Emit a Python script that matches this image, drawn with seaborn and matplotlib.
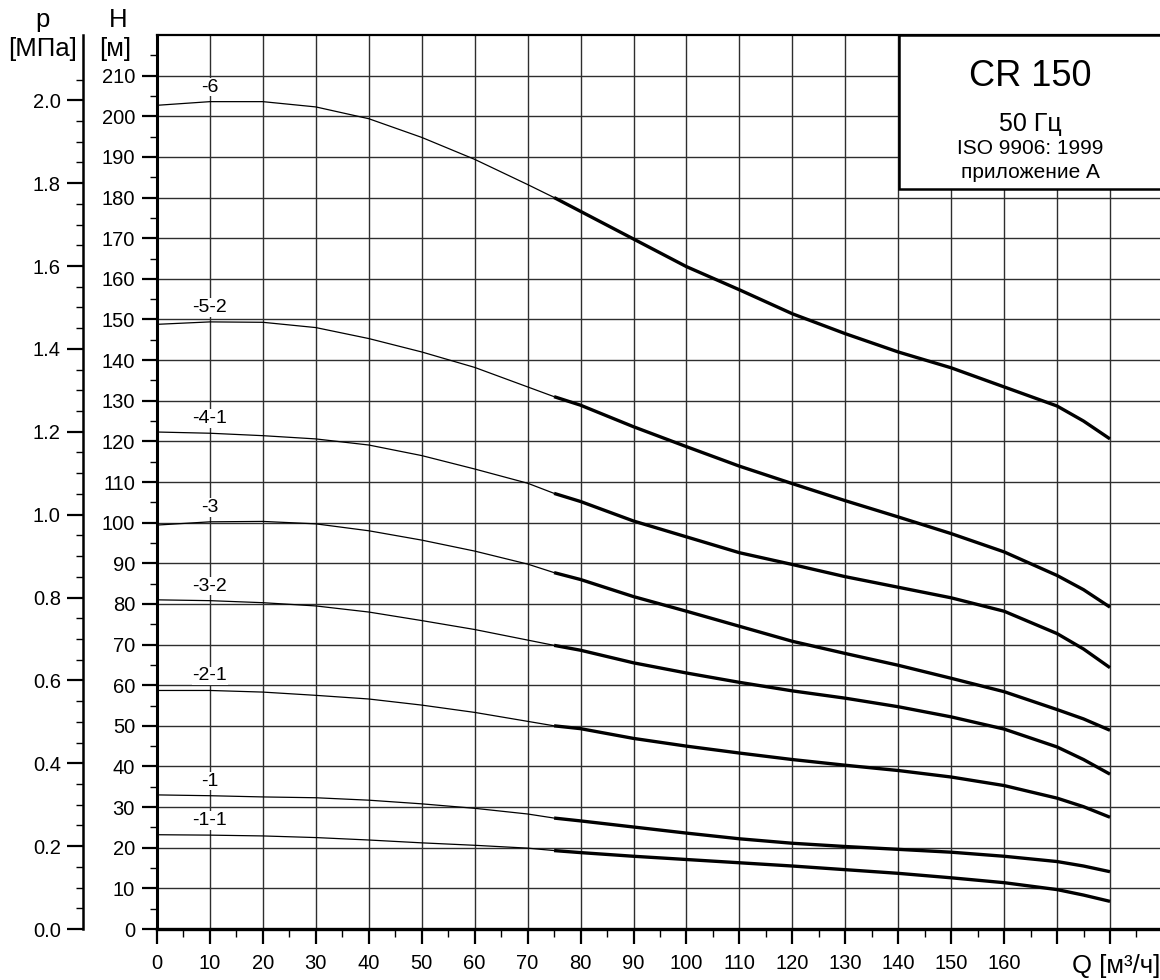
import numpy as np
import pandas as pd
import matplotlib
matplotlib.use("Agg")
import matplotlib.pyplot as plt
import seaborn as sns
from matplotlib.ticker import FixedLocator
from matplotlib.patches import Rectangle

# ---------------- data ----------------
q_values = [0, 10, 20, 30, 40, 50, 60, 70, 75, 80, 90, 100, 110, 120, 130, 140, 150, 160, 170, 175, 180]

h_6   = [202.7, 203.6, 203.6, 202.3, 199.4, 194.8, 189.4, 183.2, 180.0, 176.6, 169.8, 163.0, 157.3, 151.4, 146.5, 142.0, 138.1, 133.4, 128.7, 125.0, 120.6]
h_5_2 = [148.8, 149.4, 149.3, 148.0, 145.3, 142.0, 138.2, 133.4, 131.0, 128.9, 123.6, 118.7, 113.9, 109.6, 105.4, 101.4, 97.3, 92.8, 87.0, 83.5, 79.2]
h_4_1 = [122.3, 122.0, 121.4, 120.6, 119.1, 116.5, 113.2, 109.7, 107.2, 105.2, 100.4, 96.5, 92.6, 89.7, 86.7, 84.1, 81.5, 78.2, 72.7, 68.9, 64.3]
h_3   = [99.4, 100.2, 100.3, 99.7, 98.0, 95.7, 93.0, 89.8, 87.7, 86.0, 81.8, 78.2, 74.5, 70.8, 67.8, 64.9, 61.7, 58.4, 54.0, 51.7, 48.9]
h_3_2 = [81.0, 80.8, 80.3, 79.5, 78.0, 75.9, 73.7, 71.1, 69.8, 68.6, 65.5, 63.0, 60.7, 58.6, 56.8, 54.7, 52.2, 49.2, 44.8, 41.7, 38.1]
h_2_1 = [58.7, 58.7, 58.3, 57.5, 56.6, 55.1, 53.3, 51.1, 50.0, 49.3, 46.9, 45.0, 43.3, 41.7, 40.3, 39.0, 37.4, 35.3, 32.2, 30.1, 27.5]
h_1   = [33.0, 32.8, 32.5, 32.3, 31.7, 30.8, 29.7, 28.3, 27.3, 26.6, 25.1, 23.6, 22.2, 21.1, 20.3, 19.6, 18.9, 17.9, 16.6, 15.5, 14.1]
h_1_1 = [23.2, 23.1, 22.9, 22.5, 21.9, 21.2, 20.6, 19.9, 19.3, 18.8, 17.9, 17.1, 16.3, 15.5, 14.6, 13.7, 12.6, 11.4, 9.7, 8.35, 6.8]

curve_names = ["-6", "-5-2", "-4-1", "-3", "-3-2", "-2-1", "-1", "-1-1"]
curve_values = [h_6, h_5_2, h_4_1, h_3, h_3_2, h_2_1, h_1, h_1_1]

q_split = 75          # thin line below, thick line above
label_q = 10          # where the curve names sit

x_major_ticks = list(range(0, 181, 10))
x_tick_labels = [str(v) for v in range(0, 161, 10)] + ["", ""]
h_major_ticks = list(range(0, 211, 10))
p_major_ticks = [0.0, 0.2, 0.4, 0.6, 0.8, 1.0, 1.2, 1.4, 1.6, 1.8, 2.0]
p_tick_labels = ["0.0", "0.2", "0.4", "0.6", "0.8", "1.0", "1.2", "1.4", "1.6", "1.8", "2.0"]
p_minor_ticks = [0.05 * i for i in range(0, 42)]
m_per_mpa = 101.97

title_main = "CR 150"
title_freq = "50 Гц"
title_std = "ISO 9906: 1999"
title_annex = "приложение А"

# ---------------- style ----------------
sns.set_theme(style="ticks")
plt.rcParams["font.family"] = ["Liberation Sans", "DejaVu Sans"]
plt.rcParams["text.color"] = "black"
plt.rcParams["xtick.color"] = "black"
plt.rcParams["ytick.color"] = "black"

rows = []
for name, vals in zip(curve_names, curve_values):
    for q, h in zip(q_values, vals):
        rows.append({"curve": name, "Q": q, "H": h})
df = pd.DataFrame(rows)

W, H = 1160, 980
fig = plt.figure(figsize=(W / 100, H / 100), dpi=100)
fig.patch.set_facecolor("white")

ax_left, ax_bottom_px, ax_top_px = 157, 929, 35
ax = fig.add_axes([ax_left / W, 1 - ax_bottom_px / H, (W - ax_left) / W, (ax_bottom_px - ax_top_px) / H])
ax.set_facecolor("white")

xmax = (W - ax_left) / ((1110 - ax_left) / 180.0)
ax.set_xlim(0, xmax)
ax.set_ylim(0, 220)

# grid
ax.xaxis.set_major_locator(FixedLocator(x_major_ticks))
ax.xaxis.set_minor_locator(FixedLocator(list(range(5, 190, 10))))
ax.yaxis.set_major_locator(FixedLocator(h_major_ticks))
ax.yaxis.set_minor_locator(FixedLocator(list(range(5, 220, 10))))
ax.grid(True, which="major", color="#2e2e2e", lw=1.0, zorder=0)
ax.set_axisbelow(True)

# curves
thin = df[df["Q"] <= q_split]
thick = df[df["Q"] >= q_split]
sns.lineplot(data=thin, x="Q", y="H", units="curve", estimator=None, color="black",
             lw=0.9, ax=ax, legend=False, zorder=3)
sns.lineplot(data=thick, x="Q", y="H", units="curve", estimator=None, color="black",
             lw=2.4, ax=ax, legend=False, zorder=3, solid_capstyle="butt", solid_joinstyle="round")

# curve labels
for name, vals in zip(curve_names, curve_values):
    h_at = vals[q_values.index(label_q)]
    ax.annotate(name, xy=(label_q, h_at), xytext=(0, 10.5), textcoords="offset points",
                ha="center", va="center", fontsize=14, zorder=4,
                bbox=dict(facecolor="white", edgecolor="none", pad=0.6))

ax.set_xlabel("")
ax.set_ylabel("")
ax.set_xticklabels(x_tick_labels)
ax.set_yticklabels([str(v) for v in h_major_ticks])

ax.spines["right"].set_visible(False)
ax.spines["left"].set_linewidth(2.2)
ax.spines["bottom"].set_linewidth(2.4)
ax.spines["top"].set_linewidth(1.6)
for s in ["left", "bottom", "top"]:
    ax.spines[s].set_color("black")

ax.tick_params(axis="y", which="major", length=10.8, width=1.6, pad=5, labelsize=14.5)
ax.tick_params(axis="y", which="minor", length=5, width=1.0)
ax.tick_params(axis="x", which="major", length=10.8, width=1.6, pad=7.5, labelsize=14.5)
ax.tick_params(axis="x", which="minor", length=5.5, width=1.0)

# info box
bx0 = (899 - ax_left) / (W - ax_left)
by0 = (ax_bottom_px - 189) / (ax_bottom_px - ax_top_px)
ax.add_patch(Rectangle((bx0, by0), 0.3, 1.0 - by0, transform=ax.transAxes, facecolor="white",
                       edgecolor="black", lw=1.8, zorder=6, clip_on=False))
cx = 1030 / W
fig.text(cx, 1 - 77 / H, title_main, ha="center", va="center", fontsize=26, zorder=7)
fig.text(cx, 1 - 124 / H, title_freq, ha="center", va="center", fontsize=18, zorder=7)
fig.text(cx, 1 - 149 / H, title_std, ha="center", va="center", fontsize=15, zorder=7)
fig.text(cx, 1 - 172 / H, title_annex, ha="center", va="center", fontsize=15, zorder=7)

# pressure axis
axp = fig.add_axes([83 / W, 1 - ax_bottom_px / H, 0.0005, (ax_bottom_px - ax_top_px) / H])
axp.set_facecolor("none")
axp.set_ylim(0, 220 / m_per_mpa)
axp.yaxis.set_major_locator(FixedLocator(p_major_ticks))
axp.yaxis.set_minor_locator(FixedLocator(p_minor_ticks))
axp.set_yticklabels(p_tick_labels)
axp.set_xticks([])
for s in ["right", "top", "bottom"]:
    axp.spines[s].set_visible(False)
axp.spines["left"].set_linewidth(1.8)
axp.spines["left"].set_color("black")
axp.tick_params(axis="y", which="major", length=11.5, width=1.6, pad=4.5, labelsize=14.5)
axp.tick_params(axis="y", which="minor", length=5, width=1.0)

# axis headers
fig.text(43 / W, 1 - 20 / H, "p", ha="center", va="center", fontsize=18.5)
fig.text(43 / W, 1 - 49 / H, "[МПа]", ha="center", va="center", fontsize=18.5)
fig.text(118 / W, 1 - 20 / H, "H", ha="center", va="center", fontsize=18.5)
fig.text(115 / W, 1 - 49 / H, "[м]", ha="center", va="center", fontsize=18.5)
fig.text(1160 / W, 1 - 966 / H, "Q [м³/ч]", ha="right", va="center", fontsize=18.5)

fig.savefig("out.png", dpi=100, facecolor="white")
